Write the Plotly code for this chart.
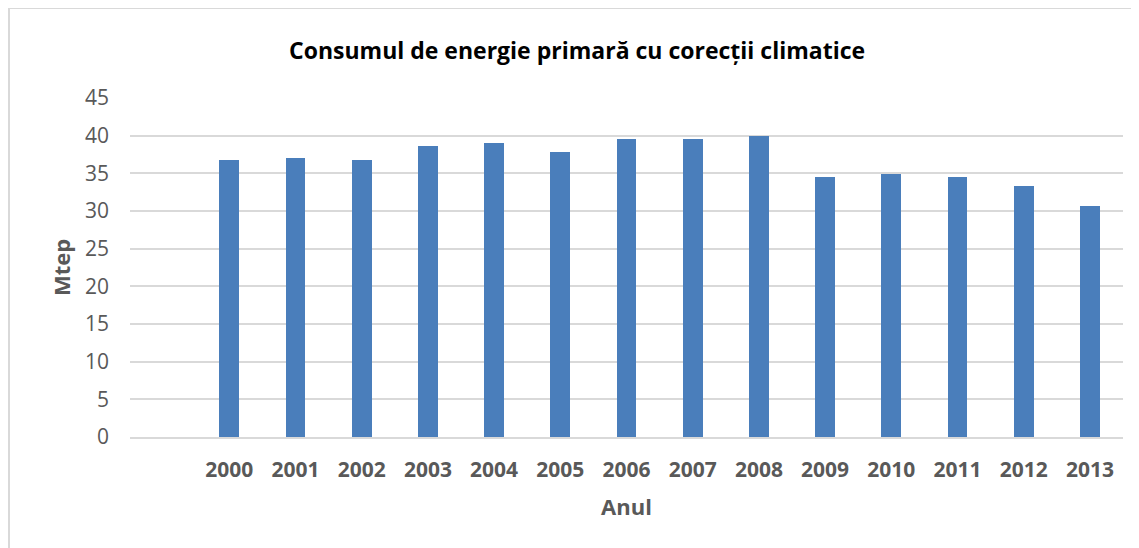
import plotly.graph_objects as go

years = ["2000", "2001", "2002", "2003", "2004", "2005", "2006",
         "2007", "2008", "2009", "2010", "2011", "2012", "2013"]
values = [36.8, 37.1, 36.8, 38.6, 39.0, 37.8, 39.5,
          39.5, 39.9, 34.5, 34.9, 34.5, 33.3, 30.6]
y_ticks = [0, 5, 10, 15, 20, 25, 30, 35, 40, 45]

title_text = "Consumul de energie primară cu corecții climatice"
x_title = "Anul"
y_title = "Mtep"

# one empty slot before the first year, as in the reference
xpos = list(range(1, len(years) + 1))

fig = go.Figure(go.Bar(
    x=xpos, y=values, width=0.30,
    marker=dict(color="#4a7ebb", line=dict(width=0)),
    hoverinfo="x+y",
))

# the page body has an 8px margin: size the figure so it ends at the window edge
OFF = 8
W, H = 1139 - OFF, 548 - OFF
ml, mt = 130 - OFF, 98 - OFF
mr = 1139 - 1123
mb = 548 - 437
pw, ph = W - ml - mr, H - mt - mb

fig.update_layout(
    width=W, height=H,
    margin=dict(l=ml, r=mr, t=mt, b=mb, pad=0),
    paper_bgcolor="white", plot_bgcolor="white",
    showlegend=False,
    font=dict(family="Open Sans", color="#595959"),
    bargap=0,
)

fig.update_xaxes(
    range=[-0.5, len(years) + 0.5],
    tickmode="array", tickvals=xpos, ticktext=years,
    tickfont=dict(size=21, color="#595959", family="Open Sans", weight="bold"),
    showgrid=False, zeroline=False,
    showline=True, linecolor="#d9d9d9", linewidth=1.5,
    ticks="", ticklabelstandoff=13,
    title=dict(text=x_title, standoff=18,
               font=dict(size=22, color="#595959", family="Open Sans", weight="bold")),
    fixedrange=True,
)
fig.update_yaxes(
    range=[0, 45],
    tickmode="array", tickvals=y_ticks,
    tickfont=dict(size=21, color="#595959", family="Open Sans"),
    showgrid=True, gridcolor="#d9d9d9", gridwidth=1.5,
    zeroline=False, showline=False,
    ticks="", ticklabelstandoff=20,
    title=dict(text=y_title, standoff=8,
               font=dict(size=22, color="#595959", family="Open Sans", weight="bold")),
    fixedrange=True,
)

# chart title centred on the chart area
fig.add_annotation(
    text=title_text, xref="paper", yref="paper",
    x=(577 - OFF - ml) / pw, y=(H - mb - (50 - OFF)) / ph,
    xanchor="center", yanchor="middle", showarrow=False,
    font=dict(size=23, color="#000000", family="Open Sans", weight="bold"),
)

# chart-area border
fig.add_shape(
    type="rect", xref="paper", yref="paper",
    x0=(9 - OFF - ml) / pw, x1=(W + 10 - ml) / pw,
    y0=-(mb + 10) / ph, y1=(H - mb - (8 - OFF)) / ph,
    line=dict(color="#d9d9d9", width=2), fillcolor="rgba(0,0,0,0)",
    layer="below",
)

fig.write_html("out.html")
